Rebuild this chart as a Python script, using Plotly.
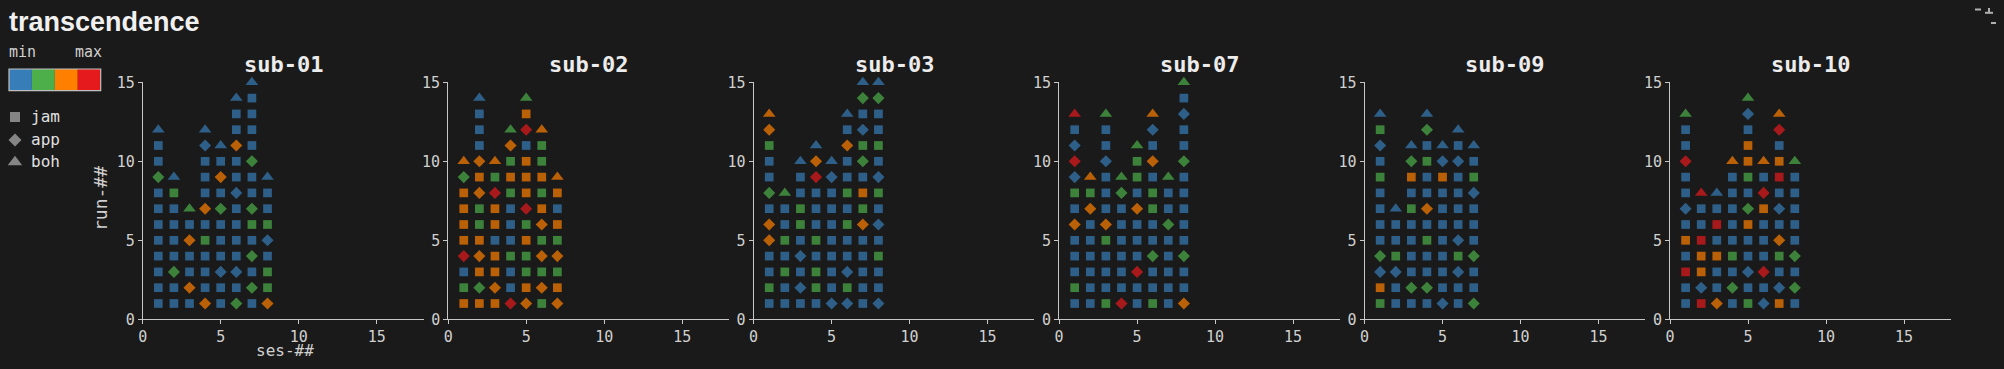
import plotly.graph_objects as go

PAGE_W, PAGE_H = 2004, 369
OX, OY = 8, 8                      # default page margin around the figure
W, H = PAGE_W - 2 * OX, PAGE_H - 2 * OY
BG = "#1a1a1a"
FG = "#d0d0d0"
MONO = "DejaVu Sans Mono"

subjects = ["sub-01", "sub-02", "sub-03", "sub-07", "sub-09", "sub-10"]
task_names = {"j": "jam", "a": "app", "b": "boh"}
task_symbols = {"j": "square", "a": "diamond", "b": "triangle-up"}
task_sizes = {"j": 8.7, "a": 9.3, "b": 11}
level_colors = ["#377eb8", "#4daf4a", "#ff7f00", "#e41a1c"]  # min -> max
x_ticks = [0, 5, 10, 15]
y_ticks = [0, 5, 10, 15]
x_range = [0, 18]
y_range = [0, 15]

# each string = one session (ses-01, ses-02, ...); tokens = runs from run-01 upward
# token: task letter (j=jam, a=app, b=boh) + transcendence level (1=min .. 4=max)
sub01 = [
    "j1 j1 j1 j1 j1 j1 j1 j1 a2 j1 j1 b1",
    "j1 j1 a2 j1 j1 j1 j1 j2 b1",
    "j1 a3 j1 j1 a3 j1 b2",
    "a3 j1 j1 j1 j2 j1 a3 j1 j1 j1 a1 b1",
    "j1 j1 a1 j1 j1 j1 a2 j1 a3 j1 b1",
    "a2 j1 a1 j1 j1 j1 j1 a1 j1 j1 a3 j1 j1 b1",
    "j1 a2 j1 a2 j1 j2 a2 j1 j1 a2 j1 j1 j1 j1 b1",
    "a3 j2 j2 j1 a1 j2 j1 j1 b1",
]
sub02 = [
    "j3 j2 j1 a4 j3 j3 j3 j3 a2 b3",
    "j3 a2 j3 a3 j3 j2 j2 a3 j3 a3 j1 j1 j1 b1",
    "j3 a3 j3 j3 j1 j3 j3 a4 j2 b3",
    "a4 j1 j1 j2 j1 j1 j1 j2 j3 j2 a3 b2",
    "a3 j3 j2 j2 j3 j2 a4 j3 j3 j3 j1 a4 j3 b2",
    "j2 a3 j2 a3 j2 a3 j3 j2 j3 j2 j2 b3",
    "a3 j3 j2 a3 j2 j3 j1 j3 b3",
]
sub03 = [
    "j1 j2 j1 j1 a3 a3 j1 a2 j1 j1 j2 a3 b3",
    "j1 j1 j2 j1 j2 j1 j1 b2",
    "j1 a1 j1 a1 j1 j2 j2 j1 j1 b1",
    "j1 j2 j2 j1 j2 j1 j1 j1 a4 a3 b1",
    "a1 j1 j1 j1 j1 j1 j1 j1 a1 b1",
    "a1 j2 a1 j1 j1 j2 j1 j2 j1 j1 a3 j1 b1",
    "j1 j1 j1 j1 j1 a3 j2 j3 j1 a2 j2 a1 j1 a2 b1",
    "a1 j1 j1 j2 j1 a1 j1 j2 a1 j1 j2 j1 j1 a2 b1",
]
sub07 = [
    "j1 j2 j1 j1 j1 a3 j1 j2 a1 a4 a1 j1 b4",
    "j1 j1 j1 j1 j1 j1 a3 j2 b3",
    "j2 j1 j1 j1 j2 a3 j1 j1 j1 a1 j1 j1 b2",
    "a4 j1 j1 j1 j1 j1 j1 a2 b2",
    "j1 j1 a4 j1 j1 j1 a3 j1 j2 j2 b2",
    "j2 j1 j1 a2 j1 j1 j2 j2 j1 a3 j1 a1 b3",
    "j1 j1 j1 j1 j1 a2 j1 j1 b2",
    "a3 j1 j1 a2 j1 j1 j1 j1 j1 a2 j1 j1 a1 j1 b2",
]
sub09 = [
    "j2 j3 a1 a2 j1 j1 j1 j1 j2 j1 a1 j2 b1",
    "j1 j1 a1 j2 j1 j1 b1",
    "j1 a2 j1 j1 j1 j1 j2 j1 j3 a2 b1",
    "j1 a2 j1 j1 j2 j1 a3 j1 j1 j2 j1 a2 b1",
    "a1 j1 j1 j1 j1 j1 j1 j1 j3 a1 b1",
    "j1 j1 a1 j2 a1 j1 j1 j1 j1 a1 j1 b1",
    "a2 j1 j1 a2 j1 j1 j1 a1 j2 j1 b1",
]
sub10 = [
    "j1 j1 j4 j1 j3 j1 a1 j1 j1 a4 j1 j1 b2",
    "j4 a1 j3 j3 j4 j1 j1 b4",
    "a3 j1 j1 j3 j1 j4 j1 b1",
    "j1 a2 j1 j2 j1 j1 j1 j1 j1 b3",
    "j2 j1 a1 j1 j1 j3 a2 j1 j2 j3 j3 j1 a1 b2",
    "a1 j1 a4 j1 j1 j1 j3 a4 j1 b3",
    "j3 a1 j1 j2 a3 j1 a1 j1 j4 j3 j1 a4 b3",
    "j1 a2 j1 a2 j1 j1 j1 j1 j1 b2",
]
subject_data = [sub01, sub02, sub03, sub07, sub09, sub10]

# ---- layout geometry (page pixels) ----
ax0_px = 142.7
ax_step_px = 305.46
ax_w_px = 280.8
y_bot_px = 319.3
y_top_px = 82.3


def px(x):
    return (x - OX) / W


def py(y):
    return 1 - (y - OY) / H


fig = go.Figure()
layout = dict(
    width=W, height=H,
    margin=dict(l=0, r=0, t=0, b=0, pad=0, autoexpand=False),
    paper_bgcolor=BG, plot_bgcolor="rgba(0,0,0,0)",
    showlegend=False,
    font=dict(family=MONO, size=15, color=FG),
)
annotations = []
shapes = []

for k, (name, sessions) in enumerate(zip(subjects, subject_data)):
    xs, ys, syms, cols, sizes, texts = [], [], [], [], [], []
    for s, ses in enumerate(sessions, start=1):
        for r, tok in enumerate(ses.split(), start=1):
            t, lv = tok[0], int(tok[1])
            xs.append(s)
            ys.append(r)
            syms.append(task_symbols[t])
            cols.append(level_colors[lv - 1])
            sizes.append(task_sizes[t])
            texts.append(f"{name} ses-{s:02d} run-{r:02d} {task_names[t]}")
    idx = "" if k == 0 else str(k + 1)
    fig.add_trace(go.Scatter(
        x=xs, y=ys, mode="markers", text=texts, hoverinfo="text",
        marker=dict(symbol=syms, color=cols, size=sizes, line=dict(width=0)),
        xaxis="x" + idx, yaxis="y" + idx, cliponaxis=False,
    ))
    x0 = ax0_px + k * ax_step_px
    x1 = x0 + ax_w_px
    common = dict(showgrid=False, zeroline=False, showline=True, linecolor="#c8c8c8",
                  linewidth=1, ticks="outside", ticklen=4, tickcolor="#c8c8c8",
                  tickfont=dict(family=MONO, size=15, color=FG), fixedrange=True,
                  automargin=False)
    layout["xaxis" + idx] = dict(domain=[px(x0), px(x1)], range=x_range, tickvals=x_ticks,
                                 anchor="y" + idx, **common)
    layout["yaxis" + idx] = dict(domain=[py(y_bot_px), py(y_top_px)], range=y_range,
                                 tickvals=y_ticks, anchor="x" + idx, **common)
    annotations.append(dict(text=f"<b>{name}</b>", x=px((x0 + x1) / 2), y=py(65),
                            xref="paper", yref="paper", showarrow=False,
                            xanchor="center", yanchor="middle",
                            font=dict(family=MONO, size=22, color="#ececec")))

# axis titles (first panel only)
annotations.append(dict(text="ses-##", x=px(285), y=py(361), xref="paper", yref="paper",
                        showarrow=False, xanchor="center", yanchor="bottom", borderpad=0,
                        font=dict(family=MONO, size=16, color=FG)))
annotations.append(dict(text="run-##", x=px(100), y=py(199), xref="paper", yref="paper",
                        showarrow=False, xanchor="center", yanchor="middle", textangle=-90,
                        font=dict(family=MONO, size=18, color=FG)))

# main title
annotations.append(dict(text="<b>transcendence</b>", x=px(7), y=py(22), xref="paper", yref="paper",
                        showarrow=False, xanchor="left", yanchor="middle",
                        font=dict(family="Liberation Sans", size=27, color="#f0f0f0")))

# color key
annotations.append(dict(text="min", x=px(22), y=py(52), xref="paper", yref="paper",
                        showarrow=False, xanchor="center", yanchor="middle",
                        font=dict(family=MONO, size=15, color=FG)))
annotations.append(dict(text="max", x=px(88.5), y=py(52), xref="paper", yref="paper",
                        showarrow=False, xanchor="center", yanchor="middle",
                        font=dict(family=MONO, size=15, color=FG)))
cb_x0, cb_x1, cb_y0, cb_y1 = 9, 100.7, 69, 90.7
cw = (cb_x1 - cb_x0) / len(level_colors)
for i, c in enumerate(level_colors):
    shapes.append(dict(type="rect", xref="paper", yref="paper",
                       x0=px(cb_x0 + i * cw), x1=px(cb_x0 + (i + 1) * cw),
                       y0=py(cb_y1), y1=py(cb_y0), fillcolor=c, line=dict(width=0)))
shapes.append(dict(type="rect", xref="paper", yref="paper", x0=px(cb_x0), x1=px(cb_x1),
                   y0=py(cb_y1), y1=py(cb_y0), line=dict(color="#c0c0c0", width=1.2)))

# shape key (task legend) on a hidden page-pixel overlay axis
leg_y = [117, 140, 162]
leg_tasks = ["j", "a", "b"]
leg_sizes = {"j": 10, "a": 10, "b": 12.5}
fig.add_trace(go.Scatter(
    x=[15] * 3, y=leg_y, mode="markers", hoverinfo="skip",
    marker=dict(symbol=[task_symbols[t] for t in leg_tasks],
                size=[leg_sizes[t] for t in leg_tasks], color="#b4b4b4", line=dict(width=0)),
    xaxis="x7", yaxis="y7", cliponaxis=False,
))
for t, yy in zip(leg_tasks, leg_y):
    annotations.append(dict(text=task_names[t], x=px(29), y=py(yy - 1), xref="paper", yref="paper",
                            showarrow=False, xanchor="left", yanchor="middle",
                            font=dict(family=MONO, size=16, color="#e0e0e0")))
layout["xaxis7"] = dict(domain=[0, 1], range=[OX, OX + W], visible=False, fixedrange=True,
                        anchor="y7", automargin=False)
layout["yaxis7"] = dict(domain=[0, 1], range=[OY + H, OY], visible=False, fixedrange=True,
                        anchor="x7", automargin=False)

# small clipped glyph fragments at the top-right corner
frag = "#b0b0b0"
for (a, b, c, d) in [(1975, 9.5, 1981, 9.5), (1989, 8, 1989, 12.5), (1985, 12.8, 1993, 12.8),
                     (1991, 23, 1996, 23)]:
    shapes.append(dict(type="line", xref="paper", yref="paper", x0=px(a), y0=py(b),
                       x1=px(c), y1=py(d), line=dict(color=frag, width=2)))

layout["annotations"] = annotations
layout["shapes"] = shapes
fig.update_layout(**layout)
post = (
    "document.documentElement.style.background='" + BG + "';"
    "document.body.style.background='" + BG + "';"
)
fig.write_html("out.html", config={"displayModeBar": False}, post_script=post)
